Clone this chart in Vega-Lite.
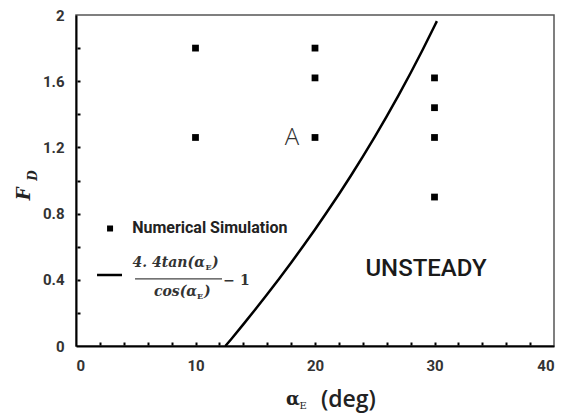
{
  "$schema": "https://vega.github.io/schema/vega-lite/v6.json",
  "width": 478,
  "height": 331,
  "autosize": "none",
  "padding": {"left": 76, "top": 15, "right": 17, "bottom": 70},
  "background": "white",
  "config": {
    "view": {"stroke": "#555", "strokeWidth": 1.5},
    "axis": {
      "grid": false,
      "domainColor": "black",
      "domainWidth": 2,
      "tickColor": "black",
      "tickWidth": 1.5,
      "labelFont": "Roboto",
      "labelFontWeight": "bold",
      "labelFontSize": 15,
      "labelColor": "#333",
      "labelOverlap": false,
      "title": null
    }
  },
  "resolve": {"axis": {"x": "independent", "y": "independent"}},
  "layer": [
    {
      "data": {"values": [
        {"a": 10, "fd": 1.8}, {"a": 10, "fd": 1.26},
        {"a": 20, "fd": 1.8}, {"a": 20, "fd": 1.62}, {"a": 20, "fd": 1.26},
        {"a": 30, "fd": 1.62}, {"a": 30, "fd": 1.44}, {"a": 30, "fd": 1.26}, {"a": 30, "fd": 0.9}
      ]},
      "mark": {"type": "point", "shape": "square", "filled": true, "color": "black", "size": 46, "opacity": 1},
      "encoding": {
        "x": {"field": "a", "type": "quantitative", "scale": {"domain": [0, 40], "nice": false},
          "axis": {"orient": "bottom", "values": [0, 10, 20, 30, 40], "ticks": false, "labelPadding": 12, "format": "d"}},
        "y": {"field": "fd", "type": "quantitative", "scale": {"domain": [0, 2], "nice": false},
          "axis": {"orient": "left", "values": [0, 0.4, 0.8, 1.2, 1.6, 2], "ticks": false, "labelPadding": 12, "format": "~g"}}
      }
    },
    {
      "data": {"values": [
        {"a": 12.5, "fd": 0}, {"a": 13, "fd": 0.0425}, {"a": 14, "fd": 0.1306}, {"a": 15, "fd": 0.2206},
        {"a": 16, "fd": 0.3125}, {"a": 17, "fd": 0.4067}, {"a": 18, "fd": 0.5032}, {"a": 19, "fd": 0.6023},
        {"a": 20, "fd": 0.7043}, {"a": 21, "fd": 0.8092}, {"a": 22, "fd": 0.9173}, {"a": 23, "fd": 1.029},
        {"a": 24, "fd": 1.1444}, {"a": 25, "fd": 1.2639}, {"a": 26, "fd": 1.3877}, {"a": 27, "fd": 1.5161},
        {"a": 28, "fd": 1.6497}, {"a": 29, "fd": 1.7886}, {"a": 30, "fd": 1.9333}, {"a": 30.2, "fd": 1.963}
      ]},
      "mark": {"type": "line", "color": "black", "strokeWidth": 2.5},
      "encoding": {
        "x": {"field": "a", "type": "quantitative",
          "axis": {"orient": "bottom", "offset": -4, "domain": false, "labels": false, "ticks": true, "tickSize": 3, "tickWidth": 2,
                   "values": [2,4,6,8,10,12,14,16,18,20,22,24,26,28,30,32,34,36,38]}},
        "y": {"field": "fd", "type": "quantitative",
          "axis": {"orient": "left", "offset": -4, "domain": false, "labels": false, "ticks": true, "tickSize": 3, "tickWidth": 2,
                   "values": [0.2,0.4,0.6,0.8,1,1.2,1.4,1.6,1.8]}}
      }
    },
    {
      "data": {"values": [{"a": 2.85, "fd": 0.71}]},
      "mark": {"type": "point", "shape": "square", "filled": true, "color": "black", "size": 36, "opacity": 1},
      "encoding": {"x": {"field": "a", "type": "quantitative", "axis": null}, "y": {"field": "fd", "type": "quantitative", "axis": null}}
    },
    {
      "data": {"values": [{"a": 1.76, "a2": 3.85, "fd": 0.429}]},
      "mark": {"type": "rule", "color": "black", "strokeWidth": 2.5},
      "encoding": {"x": {"field": "a", "type": "quantitative", "axis": null}, "x2": {"field": "a2"}, "y": {"field": "fd", "type": "quantitative", "axis": null}}
    },
    {
      "data": {"values": [{"a": 4.94, "a2": 12.22, "fd": 0.405}]},
      "mark": {"type": "rule", "color": "#444", "strokeWidth": 1.3},
      "encoding": {"x": {"field": "a", "type": "quantitative", "axis": null}, "x2": {"field": "a2"}, "y": {"field": "fd", "type": "quantitative", "axis": null}}
    },
    {
      "data": {"values": [{"a": 4.7, "fd": 0.713, "t": "Numerical Simulation"}]},
      "mark": {"type": "text", "align": "left", "baseline": "middle", "font": "Roboto", "fontSize": 16, "fontWeight": "bold", "color": "#222"},
      "encoding": {"x": {"field": "a", "type": "quantitative", "axis": null}, "y": {"field": "fd", "type": "quantitative", "axis": null}, "text": {"field": "t"}}
    },
    {
      "data": {"values": [
        {"a": 10.79, "fd": 0.5015, "t": "4. 4tan(α"},
        {"a": 10.13, "fd": 0.326, "t": "cos(α"}
      ]},
      "mark": {"type": "text", "align": "right", "baseline": "middle", "font": "DejaVu Serif", "fontSize": 14, "fontWeight": "bold", "fontStyle": "italic", "color": "#333"},
      "encoding": {"x": {"field": "a", "type": "quantitative", "axis": null}, "y": {"field": "fd", "type": "quantitative", "axis": null}, "text": {"field": "t"}}
    },
    {
      "data": {"values": [
        {"a": 11.38, "fd": 0.5015, "t": ")"},
        {"a": 10.71, "fd": 0.326, "t": ")"}
      ]},
      "mark": {"type": "text", "align": "left", "baseline": "middle", "font": "DejaVu Serif", "fontSize": 14, "fontWeight": "bold", "fontStyle": "italic", "color": "#333"},
      "encoding": {"x": {"field": "a", "type": "quantitative", "axis": null}, "y": {"field": "fd", "type": "quantitative", "axis": null}, "text": {"field": "t"}}
    },
    {
      "data": {"values": [
        {"a": 11.09, "fd": 0.471, "t": "E"},
        {"a": 10.38, "fd": 0.296, "t": "E"}
      ]},
      "mark": {"type": "text", "align": "center", "baseline": "middle", "font": "DejaVu Serif", "fontSize": 8, "fontWeight": "bold", "color": "#333"},
      "encoding": {"x": {"field": "a", "type": "quantitative", "axis": null}, "y": {"field": "fd", "type": "quantitative", "axis": null}, "text": {"field": "t"}}
    },
    {
      "data": {"values": [{"a": 13.43, "fd": 0.395, "t": "− 1"}]},
      "mark": {"type": "text", "align": "center", "baseline": "middle", "font": "DejaVu Serif", "fontSize": 14, "fontWeight": "bold", "color": "#333"},
      "encoding": {"x": {"field": "a", "type": "quantitative", "axis": null}, "y": {"field": "fd", "type": "quantitative", "axis": null}, "text": {"field": "t"}}
    },
    {
      "data": {"values": [{"a": 18.07, "fd": 1.257, "t": "A"}]},
      "mark": {"type": "text", "align": "center", "baseline": "middle", "font": "Open Sans", "fontSize": 24, "fontWeight": 300, "color": "#333"},
      "encoding": {"x": {"field": "a", "type": "quantitative", "axis": null}, "y": {"field": "fd", "type": "quantitative", "axis": null}, "text": {"field": "t"}}
    },
    {
      "data": {"values": [{"a": 29.29, "fd": 0.465, "t": "UNSTEADY"}]},
      "mark": {"type": "text", "align": "center", "baseline": "middle", "font": "Roboto", "fontSize": 24, "fontWeight": 500, "color": "#1a1a1a"},
      "encoding": {"x": {"field": "a", "type": "quantitative", "axis": null}, "y": {"field": "fd", "type": "quantitative", "axis": null}, "text": {"field": "t"}}
    },
    {
      "data": {"values": [{"a": 18.15, "fd": -0.326, "t": "α"}]},
      "mark": {"type": "text", "align": "center", "baseline": "middle", "font": "DejaVu Serif", "fontSize": 18, "fontWeight": "bold", "color": "#222"},
      "encoding": {"x": {"field": "a", "type": "quantitative", "axis": null}, "y": {"field": "fd", "type": "quantitative", "axis": null}, "text": {"field": "t"}}
    },
    {
      "data": {"values": [{"a": 19.0, "fd": -0.36, "t": "E"}]},
      "mark": {"type": "text", "align": "center", "baseline": "middle", "font": "DejaVu Serif", "fontSize": 10, "color": "#222"},
      "encoding": {"x": {"field": "a", "type": "quantitative", "axis": null}, "y": {"field": "fd", "type": "quantitative", "axis": null}, "text": {"field": "t"}}
    },
    {
      "data": {"values": [{"a": 22.8, "fd": -0.326, "t": "(deg)"}]},
      "mark": {"type": "text", "align": "center", "baseline": "middle", "font": "Open Sans", "fontSize": 23, "fontWeight": 600, "color": "#222"},
      "encoding": {"x": {"field": "a", "type": "quantitative", "axis": null}, "y": {"field": "fd", "type": "quantitative", "axis": null}, "text": {"field": "t"}}
    },
    {
      "data": {"values": [{"a": -4.27, "fd": 0.92, "t": "F"}]},
      "mark": {"type": "text", "align": "center", "baseline": "middle", "angle": 270, "font": "DejaVu Serif", "fontSize": 18, "fontWeight": "bold", "fontStyle": "italic", "color": "#222"},
      "encoding": {"x": {"field": "a", "type": "quantitative", "axis": null}, "y": {"field": "fd", "type": "quantitative", "axis": null}, "text": {"field": "t"}}
    },
    {
      "data": {"values": [{"a": -3.6, "fd": 1.03, "t": "D"}]},
      "mark": {"type": "text", "align": "center", "baseline": "middle", "angle": 270, "font": "DejaVu Serif", "fontSize": 12, "fontWeight": "bold", "fontStyle": "italic", "color": "#222"},
      "encoding": {"x": {"field": "a", "type": "quantitative", "axis": null}, "y": {"field": "fd", "type": "quantitative", "axis": null}, "text": {"field": "t"}}
    }
  ]
}
